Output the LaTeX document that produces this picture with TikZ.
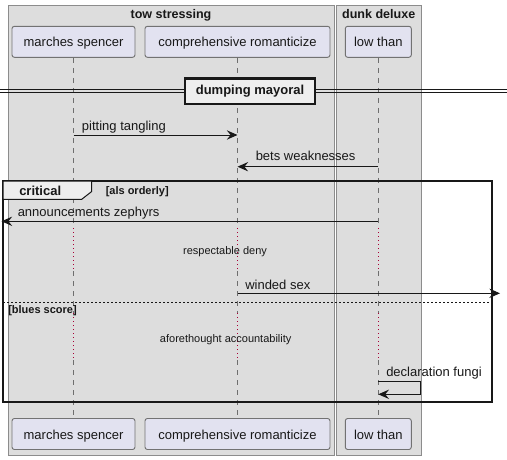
\documentclass[tikz,border=0pt]{standalone}
\usepackage{fontspec}
\setmainfont{Liberation Sans}
\usetikzlibrary{arrows.meta}
\definecolor{grpfill}{HTML}{DDDDDD}
\definecolor{grpdraw}{HTML}{8C8C8C}
\definecolor{partfill}{HTML}{E2E2F0}
\definecolor{partdraw}{HTML}{727272}
\definecolor{lifecol}{HTML}{6E6E6E}
\definecolor{delaycol}{HTML}{A80036}
\definecolor{tabfill}{HTML}{EEEEEE}
\definecolor{ink}{HTML}{181818}
\tikzset{
  grp/.style={fill=grpfill,draw=grpdraw,line width=0.75pt},
  part/.style={fill=partfill,draw=partdraw,line width=0.7pt,rounded corners=1.8pt,
    minimum height=23.25pt,inner sep=0pt,text height=9pt,text depth=1.5pt,
    font=\fontsize{9.75}{11}\selectfont,text=ink},
  grptitle/.style={font=\bfseries\fontsize{9.4}{11}\selectfont,anchor=base,inner sep=0pt,text=ink},
  lifeline/.style={draw=lifecol,line width=0.6pt,dash pattern=on 3.75pt off 3.75pt},
  delayline/.style={draw=delaycol,line width=0.6pt,dash pattern=on 0.75pt off 2.25pt},
  msg/.style={draw=ink,line width=0.75pt,-{Stealth[length=8pt,width=7pt,inset=2.8pt]}},
  msglabel/.style={font=\fontsize{9.75}{11}\selectfont,anchor=base west,inner sep=0pt,text=ink},
  delaytext/.style={font=\fontsize{8.25}{10}\selectfont,anchor=base,inner sep=0pt,text=ink},
  guard/.style={font=\bfseries\fontsize{8.25}{10}\selectfont,anchor=base west,inner sep=0pt,text=ink},
}
\begin{document}
\begin{tikzpicture}[x=0.75pt,y=-0.75pt]
\useasboundingbox (0,0) rectangle (507,460);
% group boxes
\draw[grp] (8,6) rectangle (334,455);
\draw[grp] (336,6) rectangle (421.5,455);
\node[grptitle] (g1) at (171,18.5) {tow stressing};
\node[grptitle] (g2) at (378.7,18.5) {dunk deluxe};
% participants
\node[part,minimum width=92.25pt] (msT) at (73.5,41.8) {marches spencer};
\node[part,minimum width=138.75pt] (crT) at (237.5,41.8) {comprehensive romanticize};
\node[part,minimum width=49.5pt] (ltT) at (378.3,41.8) {low than};
\node[part,minimum width=92.25pt] (msB) at (73.5,434) {marches spencer};
\node[part,minimum width=138.75pt] (crB) at (237.5,434) {comprehensive romanticize};
\node[part,minimum width=49.5pt] (ltB) at (378.3,434) {low than};
% lifelines
\foreach \t/\b in {msT/msB,crT/crB,ltT/ltB}{
  \draw[lifeline] (\t.south) -- (\t.south |- 0,228);
  \draw[delayline] (\t.south |- 0,228) -- (\t.south |- 0,271);
  \draw[lifeline] (\t.south |- 0,271) -- (\t.south |- 0,313);
  \draw[delayline] (\t.south |- 0,313) -- (\t.south |- 0,360);
  \draw[lifeline] (\t.south |- 0,360) -- (\b.north);
}
% divider
\draw[draw=ink,line width=0.75pt] (0,89.7) -- (507,89.7);
\draw[draw=ink,line width=0.75pt] (0,92.7) -- (507,92.7);
\node[draw=ink,fill=tabfill,line width=1.6pt,minimum width=97pt,minimum height=19pt,inner sep=0pt,
  font=\bfseries\fontsize{9.75}{11}\selectfont,text=ink] (div) at (250,91.2) {dumping mayoral};
% messages
\coordinate (m1) at (0,135);
\coordinate (m2) at (0,166.7);
\draw[msg] (msT.south |- m1) -- (crT.south |- m1);
\node[msglabel] (l1) at (81.7,131) {pitting tangling};
\draw[msg] (ltT.south |- m2) -- (crT.south |- m2);
\node[msglabel] (l2) at (255.5,160.7) {bets weaknesses};
% critical frame
\draw[draw=ink,line width=1.3pt] (3,181) rectangle (491.7,401.7);
\draw[draw=ink,line width=0.75pt,fill=tabfill] (3,181) -- (91.7,181) -- (91.7,191.5) -- (81.7,199.3) -- (3,199.3) -- cycle;
\node[font=\bfseries\fontsize{9.75}{11}\selectfont,anchor=base west,inner sep=0pt,text=ink] (crit) at (19,195.5) {critical};
\node[guard] (g3) at (105.5,194) {[als orderly]};
\coordinate (m3) at (0,221.3);
\coordinate (leftend) at (1.5,221.3);
\draw[msg] (ltT.south |- m3) -- (leftend);
\node[msglabel] (l3) at (17.5,216.7) {announcements zephyrs};
\node[delaytext] (d1) at (225,254) {respectable deny};
\coordinate (m4) at (0,293.3);
\coordinate (rightend) at (500,293.3);
\draw[msg] (crT.south |- m4) -- (rightend);
\node[msglabel] (l4) at (245,289) {winded sex};
\draw[draw=ink,line width=0.6pt,dash pattern=on 1.5pt off 1.5pt] (3,302.7) -- (491.7,302.7);
\node[guard] (g4) at (8,313.3) {[blues score]};
\node[delaytext] (d2) at (225.7,342.5) {aforethought accountability};
\coordinate (m5a) at (0,381);
\coordinate (m5b) at (0,394.3);
\draw[msg] (ltT.south |- m5a) -- (420.7,381) -- (420.7,394.3) -- (ltT.south |- m5b);
\node[msglabel] (l5) at (386,376.7) {declaration fungi};
\end{tikzpicture}
\end{document}
